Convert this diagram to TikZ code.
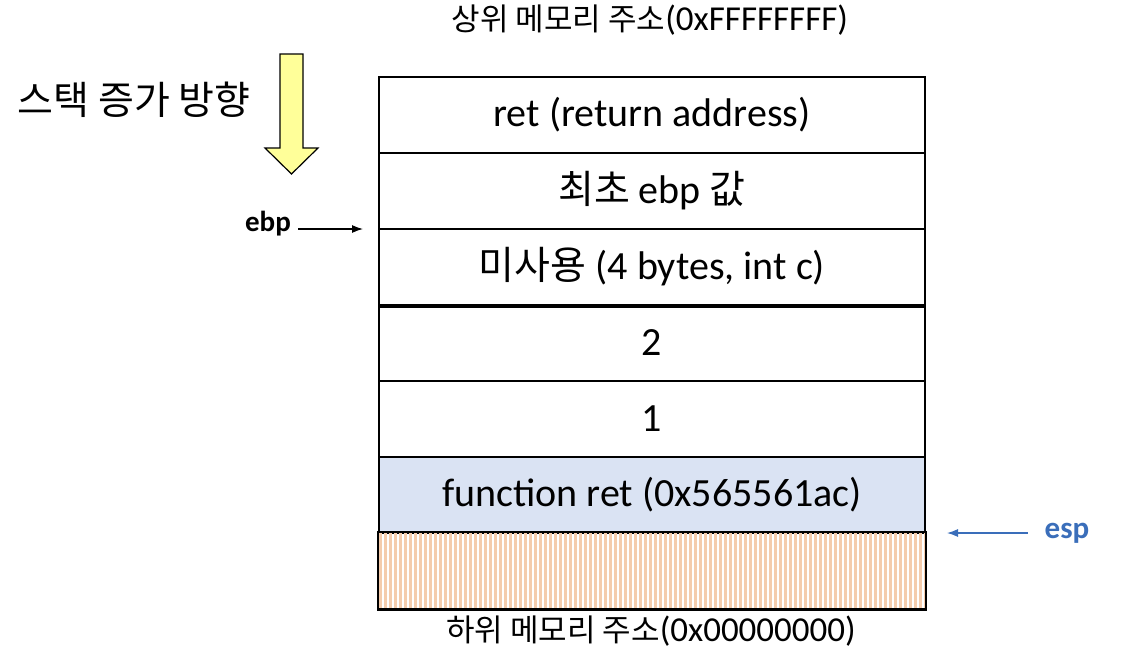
\documentclass[tikz,border=0pt]{standalone}
\usepackage{fontspec}
\setmainfont{Carlito}
\newfontfamily\kr{Noto Sans CJK KR}
\usetikzlibrary{arrows.meta}
\definecolor{cellblue}{RGB}{218,227,243}
\definecolor{stripe}{RGB}{244,204,172}
\definecolor{arrowyellow}{RGB}{255,255,153}
\definecolor{espblue}{RGB}{58,110,186}
\begin{document}
\begin{tikzpicture}[x=1pt,y=-1pt]
\useasboundingbox (0,0) rectangle (1142,656);
\tikzset{
  cell/.style={draw, line width=2pt, minimum width=546pt, minimum height=76pt, inner sep=0pt, anchor=north west, font=\fontsize{40}{46}\selectfont},
  lbl/.style={inner sep=0pt},
  ptr/.style={line width=1.2pt, -{Latex[length=11pt,width=8pt]}}
}
% rows
\node[cell] (r1) at (378,76) {ret (return address)};
\node[cell] (r2) at (378,152) {{\kr\fontsize{39}{44}\selectfont 최초} ebp {\kr\fontsize{39}{44}\selectfont 값}};
\node[cell] (r3) at (378,228) {{\kr\fontsize{39}{44}\selectfont 미사용} (4 bytes, int c)};
\node[cell] (r4) at (378,304) {2};
\node[cell] (r5) at (378,380) {1};
\node[cell, fill=cellblue] (r6) at (378,456) {function ret (0x565561ac)};
\node[cell] (r7) at (378,532) {};
% stripes
\begin{scope}
\clip (r7.north west) rectangle (r7.south east);
\foreach \k in {0,...,109} {
  \draw[stripe, line width=2.6pt] ({380.5+5*\k},532) -- ({380.5+5*\k},608);
}
\end{scope}
\draw[line width=2pt] (r7.north west) rectangle (r7.south east);
\draw[line width=3pt] (r3.south west) -- (r3.south east);
% labels
\node[lbl] (top) at (650,20) {{\kr\fontsize{31}{36}\selectfont 상위 메모리 주소}\fontsize{35}{40}\selectfont(0xFFFFFFFF)};
\node[lbl] (bot) at (651,631) {{\kr\fontsize{31}{36}\selectfont 하위 메모리 주소}\fontsize{35}{40}\selectfont(0x00000000)};
\node[lbl, font=\kr\fontsize{39}{44}\selectfont] (grow) at (134,100) {스택 증가 방향};
% yellow arrow
\draw[line width=1.2pt, fill=arrowyellow, line join=miter]
  (280,54) -- (303,54) -- (303,148) -- (318,148) -- (291.5,174) -- (265,148) -- (280,148) -- cycle;
% ebp / esp
\node[lbl, font=\bfseries\fontsize{29}{34}\selectfont] (ebp) at (268,224) {ebp};
\coordinate (ebpend) at (363,229);
\path (ebp.east |- ebpend) ++(7,0) coordinate (ebpstart);
\draw[ptr] (ebpstart) -- (ebpend);
\node[lbl, font=\bfseries\fontsize{31}{36}\selectfont, text=espblue] (esp) at (1067,533) {esp};
\coordinate (espend) at (947,533);
\path (esp.west) ++(-17,0) coordinate (espstart);
\draw[ptr, espblue] (espstart) -- (espend);
\end{tikzpicture}
\end{document}
